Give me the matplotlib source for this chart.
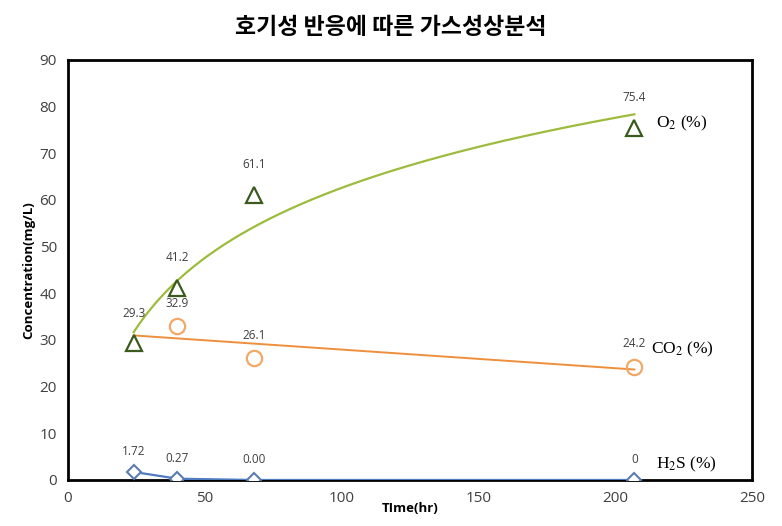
import numpy as np
import matplotlib.pyplot as plt

plt.rcParams['font.family'] = ['Open Sans', 'DejaVu Sans']
plt.rcParams['mathtext.fontset'] = 'stix'

# data
time_hr = [24, 40, 68, 207]
o2 = [29.3, 41.2, 61.1, 75.4]
co2 = [31.0, 32.9, 26.1, 24.2]       # first point only feeds the trend line
h2s = [1.72, 0.27, 0.00, 0.0]
o2_labels = ['29.3', '41.2', '61.1', '75.4']
co2_labels = ['', '32.9', '26.1', '24.2']
h2s_labels = ['1.72', '0.27', '0.00', '0']

title = '호기성 반응에 따른 가스성상분석'
xticks = [0, 50, 100, 150, 200, 250]
yticks = list(range(0, 100, 10))

fig = plt.figure(figsize=(7.82, 5.26), dpi=100)
ax = fig.add_axes([0.087, 0.0875, 0.8746, 0.7985])

x = np.array(time_hr, dtype=float)
xs = np.linspace(x.min(), x.max(), 200)

# O2: logarithmic trend line
a, b = np.polyfit(np.log(x), o2, 1)
ax.plot(xs, a * np.log(xs) + b, color='#9DBB3C', lw=1.6, zorder=2)
ax.plot(x, o2, ls='none', marker='^', ms=11, mfc='none', mec='#3A5A1E',
        mew=1.6, zorder=3)

# CO2: linear trend line
m, c = np.polyfit(x, co2, 1)
ax.plot(xs, m * xs + c, color='#ED8F3C', lw=1.4, zorder=2)
ax.plot(x[1:], co2[1:], ls='none', marker='o', ms=11, mfc='none',
        mec='#F2A867', mew=1.6, zorder=3)

# H2S: connected line
ax.plot(x, h2s, color='#4F7BC0', lw=1.6, marker='D', ms=7, mfc='white',
        mec='#5B7DB1', mew=1.5, zorder=4)

lab = dict(textcoords='offset points', ha='center', va='bottom',
           fontsize=8.5, color='#404040')
for xi, yi, t in zip(x, o2, o2_labels):
    ax.annotate(t, (xi, yi), xytext=(0, 17), **lab)
for xi, yi, t in zip(x, co2, co2_labels):
    if t:
        ax.annotate(t, (xi, yi), xytext=(0, 12), **lab)
for xi, yi, t in zip(x, h2s, h2s_labels):
    ax.annotate(t, (xi, yi), xytext=(0, 10), **lab)

ax.text(215, 76.5, r'O$_2$ (%)', fontsize=12.5, family='Liberation Serif',
        va='center')
ax.text(213, 27.9, r'CO$_2$ (%)', fontsize=12.5, family='Liberation Serif',
        va='center')
ax.text(215, 3.3, r'H$_2$S (%)', fontsize=12.5, family='Liberation Serif',
        va='center')

ax.set_xlim(0, 250)
ax.set_ylim(0, 90)
ax.set_xticks(xticks)
ax.set_yticks(yticks)
ax.tick_params(length=0, labelsize=11, labelcolor='#404040', pad=8)
for s in ax.spines.values():
    s.set_linewidth(2)
    s.set_color('black')

ax.set_xlabel('TIme(hr)', fontsize=9.5, fontweight='bold', labelpad=-3)
ax.set_ylabel('Concentration(mg/L)', fontsize=9.5, fontweight='bold',
              labelpad=3)

fig.suptitle(title, fontsize=16.5, fontweight='bold',
             family=['Noto Sans CJK KR', 'DejaVu Sans'], y=0.97)

fig.savefig('out.png', dpi=100)
